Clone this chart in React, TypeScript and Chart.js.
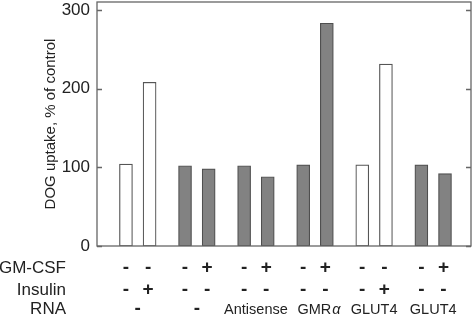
import React, { useEffect, useRef } from "react";
import { Chart, registerables } from "chart.js";

Chart.register(...registerables);

// Data
const groupLabels = ["-", "-", "Antisense", "GMR", "GLUT4", "GLUT4"];
const groupLabelItalicSuffix = ["", "", "", "α", "", ""];
const gmcsf = ["-", "-", "-", "+", "-", "+", "-", "+", "-", "-", "-", "+"];
const insulin = ["-", "+", "-", "-", "-", "-", "-", "-", "-", "+", "-", "-"];
const uptake = [104, 208, 102, 98, 102, 88, 103, 283, 103, 231, 103, 92];
const filled = [false, false, true, true, true, true, true, true, false, false, true, true];
const rowLabels = ["GM-CSF", "Insulin", "RNA"];
const yTicks = [0, 100, 200, 300];

// slot positions (bar index within group, group spacing)
const barPos = uptake.map((_, i) => 2.45 + Math.floor(i / 2) * 5 + (i % 2) * 2);

const FONT = "'Liberation Sans', Arial, Helvetica, sans-serif";
const TEXT = "#222";
const LINE = "#666";

const framePlugin = {
  id: "framePlugin",
  afterDatasetsDraw(chart: any) {
    const { ctx, chartArea: a, scales } = chart;
    const y = scales.y;
    const x = scales.x;
    ctx.save();
    ctx.strokeStyle = LINE;
    ctx.lineWidth = 1.3;
    ctx.strokeRect(a.left, a.top, a.right - a.left, a.bottom - a.top);
    yTicks.forEach((t) => {
      const py = Math.round(y.getPixelForValue(t)) + 0.5;
      ctx.beginPath();
      ctx.moveTo(a.left, py);
      ctx.lineTo(a.left + 5, py);
      ctx.moveTo(a.right, py);
      ctx.lineTo(a.right - 5, py);
      ctx.stroke();
    });
    // treatment table
    ctx.fillStyle = TEXT;
    ctx.textBaseline = "middle";
    ctx.font = `17px ${FONT}`;
    const rowsY = [268, 290, 309];
    ctx.textAlign = "right";
    rowLabels.forEach((l, r) => ctx.fillText(l, 66, rowsY[r]));
    ctx.textAlign = "center";
    ctx.font = `bold 19px ${FONT}`;
    barPos.forEach((p, i) => {
      const px = x.getPixelForValue(p) - (i % 2 ? 1.5 : 0);
      ctx.fillText(gmcsf[i], px, rowsY[0]);
      ctx.fillText(insulin[i], px, rowsY[1]);
    });
    groupLabels.forEach((g, gi) => {
      const cx = (x.getPixelForValue(barPos[gi * 2]) + x.getPixelForValue(barPos[gi * 2 + 1])) / 2;
      const suffix = groupLabelItalicSuffix[gi];
      const isSign = g === "-" || g === "+";
      const mainFont = isSign ? `bold 19px ${FONT}` : `14.5px ${FONT}`;
      ctx.font = mainFont;
      const w1 = ctx.measureText(g).width;
      let w2 = 0;
      if (suffix) {
        ctx.font = `italic 14.5px ${FONT}`;
        w2 = ctx.measureText(suffix).width + 1;
      }
      const start = cx - (w1 + w2) / 2 + (suffix ? 4 : 0);
      ctx.textAlign = "left";
      ctx.font = mainFont;
      ctx.fillText(g, start, rowsY[2] + (isSign ? 0 : 1));
      if (suffix) {
        ctx.font = `italic 14.5px ${FONT}`;
        ctx.fillText(suffix, start + w1 + 1, rowsY[2] + 1);
      }
    });
    ctx.restore();
  },
};

export default function App() {
  const ref = useRef<HTMLCanvasElement | null>(null);
  useEffect(() => {
    document.body.style.margin = "0";
    const chart = new Chart(ref.current as HTMLCanvasElement, {
      type: "bar",
      data: {
        datasets: [
          {
            data: uptake.map((v, i) => ({ x: barPos[i], y: v })),
            backgroundColor: filled.map((f) => (f ? "#828282" : "#ffffff")),
            borderColor: filled.map((f) => (f ? "#4f4f4f" : "#555555")),
            borderWidth: 1.2,
            borderSkipped: false,
            barThickness: 13,
          },
        ],
      },
      options: {
        animation: false,
        responsive: false,
        maintainAspectRatio: false,
        layout: { padding: { left: 0, right: 3, top: 2, bottom: 72 } },
        plugins: { legend: { display: false }, tooltip: { enabled: false } },
        scales: {
          x: {
            type: "linear",
            min: 0,
            max: 31.65,
            display: false,
            offset: false,
          },
          y: {
            min: 0,
            max: 310,
            afterBuildTicks: (s: any) => {
              s.ticks = yTicks.map((v) => ({ value: v }));
            },
            afterFit: (s: any) => {
              s.width = 97;
              s.paddingTop = 0;
              s.paddingBottom = 0;
            },
            grid: { display: false, drawTicks: false },
            border: { display: false },
            ticks: {
              padding: 7,
              color: TEXT,
              font: { family: FONT, size: 17 },
            },
            title: {
              display: true,
              text: "DOG uptake, % of control",
              color: TEXT,
              font: { family: FONT, size: 15 },
              padding: { top: 42, bottom: 0 },
            },
          },
        },
      },
      plugins: [framePlugin],
    } as any);
    return () => chart.destroy();
  }, []);
  return (
    <div style={{ position: "absolute", left: 0, top: 0, width: 474, height: 318, background: "#fff" }}>
      <canvas ref={ref} width={474} height={318} style={{ width: 474, height: 318 }} />
    </div>
  );
}
